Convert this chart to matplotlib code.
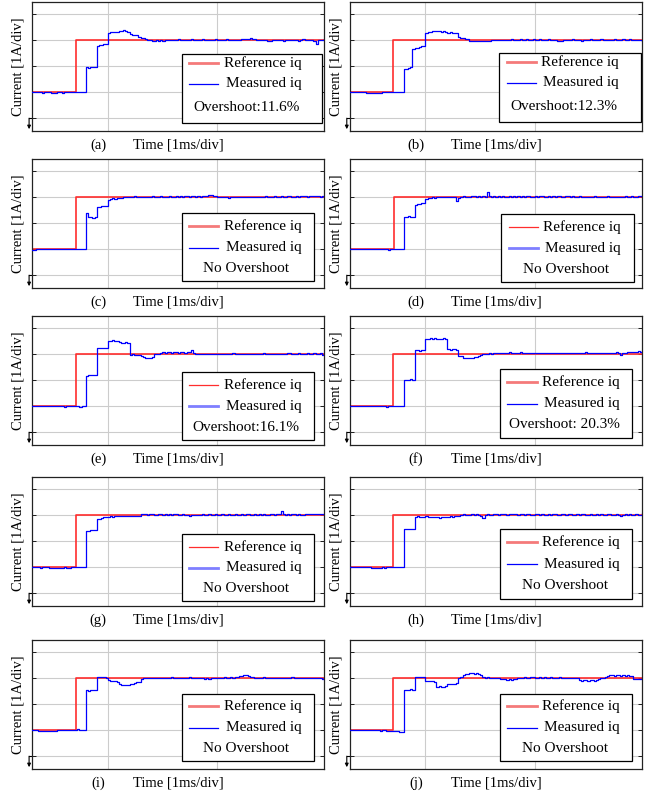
import numpy as np
import matplotlib.pyplot as plt
from matplotlib.patches import Rectangle
from matplotlib.lines import Line2D
import matplotlib.transforms as mtransforms

plt.rcParams['font.family'] = ['Liberation Serif', 'DejaVu Serif']

# scope traces, 1 A/div vertical, 1 ms/div horizontal, sampled every 0.02 ms from -0.70 ms
t0_ms = -0.70
dt_ms = 0.02

iq_a = [1.00, 1.02, 0.99, 1.01, 1.00, 0.98, 1.01, 1.00, 0.99, 0.97,
        0.96, 0.97, 0.99, 1.00, 0.98, 1.01, 0.99, 1.00, 1.01, 0.99,
        1.00, 1.01, 0.99, 1.02, 1.00, 1.95, 1.94, 1.96, 1.97, 1.96,
        2.77, 2.79, 2.80, 2.83, 2.85, 3.28, 3.30, 3.29, 3.32, 3.31,
        3.33, 3.35, 3.37, 3.34, 3.30, 3.22, 3.20, 3.19, 3.18, 3.10,
        3.08, 3.09, 3.05, 3.00, 2.98, 2.97, 2.96, 2.98, 2.97, 2.99,
        2.97, 3.00, 2.98, 3.01, 2.99, 3.00, 2.98, 3.02, 3.00, 2.99,
        3.01, 3.00, 2.99, 3.02, 3.00, 2.98, 3.01, 3.00, 3.02, 2.99,
        3.00, 3.01, 2.98, 3.00, 3.02, 2.99, 3.01, 3.00, 2.99, 3.02,
        3.00, 2.99, 3.01, 3.00, 2.98, 3.01, 3.03, 3.04, 3.05, 3.04,
        3.06, 3.04, 3.03, 3.01, 3.00, 2.99, 3.01, 2.98, 2.96, 2.97,
        3.00, 2.98, 3.01, 2.99, 3.00, 2.97, 2.99, 3.01, 3.00, 2.98,
        3.01, 3.00, 2.97, 2.99, 3.02, 3.00, 2.98, 3.01, 2.99, 2.97,
        2.86, 2.99, 3.01, 3.00, 3.02]

iq_b = [1.00, 1.01, 0.99, 1.00, 1.02, 1.00, 0.99, 1.01, 0.98, 0.97,
        0.98, 0.96, 0.95, 0.97, 0.96, 0.99, 1.00, 1.01, 0.99, 1.00,
        1.00, 1.01, 0.99, 1.00, 1.02, 1.88, 1.90, 1.93, 1.97, 2.66,
        2.68, 2.70, 2.74, 2.76, 2.77, 3.27, 3.29, 3.31, 3.34, 3.33,
        3.35, 3.34, 3.32, 3.33, 3.30, 3.28, 3.29, 3.26, 3.27, 3.25,
        3.10, 3.08, 3.06, 3.05, 3.03, 2.97, 2.95, 2.96, 2.94, 2.96,
        2.95, 2.97, 2.96, 2.95, 2.97, 2.99, 2.98, 3.00, 2.99, 3.01,
        3.00, 2.99, 3.01, 3.00, 3.02, 3.00, 2.99, 3.01, 3.03, 3.00,
        3.01, 3.02, 3.00, 2.99, 3.02, 3.01, 3.00, 3.02, 2.99, 3.01,
        3.00, 3.02, 3.01, 2.99, 3.00, 2.96, 2.95, 2.96, 2.98, 3.00,
        3.01, 3.00, 3.02, 2.99, 3.01, 3.00, 2.97, 2.99, 3.01, 3.00,
        3.02, 3.00, 2.99, 3.01, 3.00, 3.03, 3.01, 3.00, 2.99, 3.01,
        3.00, 3.02, 3.01, 2.99, 3.00, 3.02, 3.01, 3.00, 3.02, 3.00,
        3.01, 2.99, 3.00, 2.98, 2.96]

iq_c = [0.98, 0.97, 0.99, 1.00, 1.01, 0.99, 1.00, 1.02, 1.00, 0.99,
        1.00, 1.01, 0.99, 1.00, 1.00, 1.02, 0.99, 1.00, 1.01, 0.99,
        1.00, 0.99, 1.01, 1.00, 1.02, 2.40, 2.22, 2.21, 2.20, 2.22,
        2.62, 2.63, 2.64, 2.66, 2.66, 2.88, 2.92, 2.95, 2.90, 2.96,
        2.94, 2.97, 3.00, 2.99, 3.01, 2.98, 3.00, 3.02, 2.99, 3.00,
        2.99, 3.01, 3.00, 2.98, 3.00, 3.02, 2.99, 3.01, 3.00, 3.02,
        3.00, 2.99, 3.01, 3.02, 3.00, 3.01, 3.03, 3.00, 3.02, 3.01,
        3.03, 3.02, 3.01, 3.04, 3.02, 3.00, 3.02, 3.01, 3.03, 3.02,
        3.05, 3.07, 3.06, 3.04, 3.02, 3.00, 2.98, 2.99, 3.01, 2.98,
        2.97, 2.99, 3.00, 2.98, 3.00, 3.01, 2.99, 3.00, 2.98, 3.00,
        3.01, 2.99, 3.00, 3.01, 3.00, 2.99, 3.00, 3.02, 3.01, 3.00,
        3.00, 3.02, 3.01, 3.00, 3.03, 3.01, 3.00, 3.02, 3.04, 3.01,
        3.00, 3.02, 3.01, 3.03, 3.04, 3.02, 3.01, 3.03, 3.02, 3.04,
        3.02, 3.03, 3.01, 3.03, 2.99]

iq_d = [1.00, 1.02, 1.00, 1.01, 0.99, 1.01, 1.00, 1.02, 0.99, 1.00,
        1.01, 0.99, 1.00, 0.99, 1.01, 1.00, 0.99, 1.00, 0.98, 1.00,
        1.00, 0.99, 1.01, 1.00, 1.01, 2.24, 2.23, 2.25, 2.24, 2.24,
        2.69, 2.71, 2.73, 2.75, 2.76, 2.92, 2.96, 2.95, 2.98, 2.97,
        2.99, 2.98, 3.00, 3.01, 2.99, 3.00, 2.98, 3.01, 2.99, 2.86,
        2.97, 3.00, 3.02, 3.01, 2.99, 3.01, 3.03, 3.02, 3.00, 3.02,
        3.01, 3.03, 3.00, 3.18, 3.03, 3.01, 3.02, 3.00, 3.03, 3.01,
        3.02, 3.00, 3.01, 3.03, 3.01, 3.02, 3.00, 3.02, 3.01, 3.03,
        3.00, 3.02, 3.03, 3.01, 3.00, 3.02, 3.01, 3.04, 3.02, 3.00,
        3.01, 3.03, 3.00, 3.02, 3.01, 3.04, 3.02, 3.00, 3.01, 3.02,
        3.03, 3.01, 3.02, 3.00, 3.01, 3.02, 3.00, 3.01, 2.99, 3.00,
        3.01, 3.00, 3.02, 3.01, 3.00, 2.99, 3.01, 3.00, 3.02, 3.00,
        3.01, 2.99, 3.00, 3.01, 2.99, 3.00, 3.02, 3.01, 3.00, 3.03,
        3.01, 3.00, 3.02, 3.03, 3.01]

iq_e = [1.00, 1.01, 0.99, 1.00, 1.02, 1.00, 1.01, 0.99, 1.00, 1.01,
        0.99, 1.00, 1.01, 0.99, 1.00, 0.98, 1.00, 1.01, 0.99, 1.00,
        0.99, 1.00, 0.97, 1.01, 1.00, 2.17, 2.18, 2.18, 2.19, 2.20,
        3.23, 3.24, 3.22, 3.23, 3.21, 3.51, 3.50, 3.52, 3.49, 3.48,
        3.45, 3.43, 3.42, 3.44, 3.43, 2.97, 2.98, 2.96, 2.97, 2.95,
        2.92, 2.87, 2.85, 2.84, 2.86, 2.88, 3.00, 2.99, 3.01, 3.02,
        3.06, 3.05, 3.07, 3.06, 3.05, 3.07, 3.06, 3.05, 3.06, 3.07,
        3.05, 3.06, 3.08, 3.15, 3.04, 3.00, 2.99, 3.01, 3.00, 2.98,
        3.00, 3.01, 2.99, 3.00, 2.98, 3.01, 3.00, 2.99, 3.01, 3.00,
        2.99, 3.00, 3.02, 2.99, 3.00, 3.01, 2.98, 3.00, 3.01, 2.99,
        3.00, 2.98, 3.01, 3.00, 2.99, 3.00, 3.02, 3.01, 2.99, 3.00,
        2.98, 3.00, 3.01, 3.00, 2.99, 3.01, 3.00, 3.03, 3.02, 3.00,
        3.01, 3.00, 3.02, 3.01, 2.99, 3.00, 3.02, 3.01, 3.00, 3.02,
        3.01, 3.00, 3.02, 2.94, 3.01]

iq_f = [1.00, 0.99, 1.01, 1.00, 1.02, 1.00, 0.99, 1.01, 1.00, 1.02,
        1.00, 0.99, 1.01, 1.00, 0.99, 1.01, 1.00, 0.98, 1.00, 1.01,
        1.00, 1.01, 0.99, 1.00, 1.00, 2.00, 2.01, 2.00, 2.02, 2.01,
        3.13, 3.14, 3.12, 3.15, 3.14, 3.58, 3.57, 3.60, 3.58, 3.59,
        3.57, 3.58, 3.56, 3.59, 3.57, 3.17, 3.16, 3.18, 3.17, 3.16,
        2.92, 2.90, 2.86, 2.85, 2.84, 2.86, 2.85, 2.88, 2.87, 2.92,
        2.96, 2.99, 3.00, 3.01, 3.02, 3.01, 3.03, 3.04, 3.03, 3.05,
        3.04, 3.05, 3.03, 3.06, 3.04, 3.05, 3.03, 3.04, 3.06, 3.04,
        3.05, 3.03, 3.04, 3.02, 3.04, 3.03, 3.05, 3.04, 3.02, 3.04,
        3.03, 3.05, 3.04, 3.03, 3.02, 3.04, 3.03, 3.05, 3.04, 3.02,
        3.03, 3.04, 3.05, 3.03, 3.02, 3.04, 3.03, 3.05, 3.06, 3.04,
        3.03, 3.04, 3.02, 3.04, 3.03, 3.05, 3.04, 3.03, 3.05, 3.04,
        3.05, 3.04, 3.06, 3.05, 2.95, 3.04, 3.05, 3.07, 3.06, 3.08,
        3.09, 3.08, 3.11, 3.09, 3.10]

iq_g = [1.00, 0.99, 1.01, 1.00, 0.98, 1.00, 0.99, 1.01, 0.98, 0.97,
        0.96, 0.98, 0.97, 0.95, 0.97, 0.99, 0.96, 0.98, 1.00, 1.01,
        0.99, 1.00, 1.02, 1.01, 1.00, 2.39, 2.40, 2.41, 2.42, 2.43,
        2.84, 2.86, 2.88, 2.91, 2.90, 2.92, 2.94, 2.93, 2.95, 2.96,
        2.94, 2.96, 2.95, 2.97, 2.95, 2.96, 2.94, 2.96, 2.97, 2.95,
        3.05, 3.03, 3.02, 3.01, 3.03, 3.02, 3.00, 3.01, 3.03, 3.02,
        3.01, 3.03, 3.00, 3.02, 3.01, 3.03, 3.02, 3.00, 3.01, 3.02,
        3.00, 2.98, 2.97, 2.99, 3.01, 3.00, 2.99, 3.01, 3.02, 3.00,
        3.01, 3.02, 3.00, 3.01, 3.03, 3.01, 3.00, 3.02, 3.01, 3.00,
        3.02, 3.00, 3.01, 3.03, 3.01, 3.00, 3.02, 3.01, 3.03, 3.02,
        3.00, 3.01, 3.02, 3.00, 3.03, 3.01, 3.02, 3.00, 3.01, 3.03,
        3.02, 3.01, 3.03, 3.02, 3.14, 3.03, 3.01, 3.02, 3.00, 3.02,
        3.03, 3.01, 3.02, 3.00, 3.01, 3.03, 3.02, 3.04, 3.02, 3.03,
        3.05, 3.03, 3.04, 3.02, 3.03]

iq_h = [1.00, 1.01, 0.99, 1.02, 1.00, 0.99, 1.01, 1.00, 0.99, 1.00,
        0.98, 0.96, 0.97, 0.95, 0.97, 0.99, 0.98, 1.00, 0.99, 1.01,
        1.00, 0.99, 1.01, 1.00, 1.00, 2.45, 2.44, 2.46, 2.45, 2.44,
        2.93, 2.94, 2.92, 2.93, 2.91, 2.94, 2.92, 2.93, 2.91, 2.90,
        2.92, 2.89, 2.90, 2.91, 2.93, 2.92, 2.94, 2.93, 2.95, 2.94,
        2.96, 3.00, 3.02, 3.01, 2.99, 3.01, 3.03, 3.00, 3.02, 3.01,
        2.95, 2.87, 3.00, 3.02, 3.01, 3.00, 3.02, 3.03, 3.01, 3.02,
        3.04, 3.03, 3.01, 3.02, 3.05, 3.03, 3.02, 3.01, 3.03, 3.02,
        3.01, 3.03, 3.02, 3.00, 3.01, 3.03, 3.02, 3.00, 3.02, 3.01,
        3.00, 3.02, 3.01, 3.03, 3.02, 3.00, 3.01, 3.03, 3.02, 3.01,
        3.03, 3.02, 3.01, 3.00, 3.02, 3.01, 3.03, 3.02, 3.00, 3.01,
        3.02, 3.00, 3.01, 3.03, 3.01, 3.02, 3.00, 3.01, 3.02, 3.03,
        3.01, 3.00, 3.02, 3.01, 2.97, 3.00, 3.02, 3.01, 3.03, 3.00,
        3.01, 3.02, 2.98, 3.00, 3.09]

iq_i = [1.00, 0.99, 1.01, 0.96, 0.95, 0.97, 0.96, 0.98, 0.95, 0.97,
        0.98, 0.96, 0.99, 1.00, 0.99, 1.01, 1.00, 0.99, 1.01, 1.00,
        0.99, 1.05, 1.00, 1.01, 0.99, 2.52, 2.51, 2.53, 2.52, 2.52,
        3.03, 3.05, 3.02, 3.04, 3.01, 2.90, 2.88, 2.87, 2.89, 2.86,
        2.76, 2.74, 2.71, 2.72, 2.74, 2.76, 2.78, 2.80, 2.84, 2.86,
        2.97, 2.99, 3.00, 2.98, 3.01, 3.00, 2.99, 3.01, 3.00, 2.98,
        3.00, 3.01, 2.99, 3.00, 3.02, 3.00, 3.01, 2.99, 3.00, 3.01,
        2.99, 3.00, 3.02, 3.01, 3.00, 2.99, 3.01, 3.00, 2.98, 2.97,
        2.98, 2.97, 2.99, 3.00, 2.99, 3.01, 3.00, 2.99, 3.02, 3.01,
        3.00, 3.02, 3.01, 3.03, 3.05, 3.06, 3.08, 3.10, 3.12, 3.07,
        3.04, 3.02, 3.00, 3.01, 2.99, 3.00, 3.02, 3.00, 2.98, 2.99,
        3.00, 3.01, 2.99, 3.00, 2.98, 3.00, 3.01, 2.99, 3.00, 3.02,
        3.00, 2.99, 3.01, 3.00, 2.98, 3.00, 3.01, 2.99, 3.00, 2.98,
        2.99, 3.01, 3.00, 2.97, 2.99]

iq_j = [1.01, 1.00, 1.02, 1.00, 1.01, 0.99, 1.00, 1.01, 0.99, 1.00,
        1.00, 0.99, 1.01, 1.00, 0.98, 0.99, 1.00, 0.97, 0.98, 0.96,
        0.97, 0.98, 0.96, 0.93, 0.93, 2.55, 2.53, 2.54, 2.56, 2.55,
        3.03, 3.04, 3.02, 3.05, 3.03, 2.89, 2.88, 2.87, 2.89, 2.86,
        2.66, 2.67, 2.65, 2.66, 2.68, 2.77, 2.76, 2.78, 2.77, 2.79,
        2.98, 3.02, 3.10, 3.13, 3.15, 3.18, 3.20, 3.16, 3.18, 3.14,
        3.10, 3.05, 3.00, 3.02, 2.99, 3.01, 3.00, 2.98, 3.01, 2.97,
        2.96, 2.94, 2.93, 2.95, 2.93, 2.94, 2.96, 2.99, 3.01, 3.00,
        3.02, 3.00, 3.01, 3.03, 3.02, 3.00, 3.01, 3.02, 3.00, 3.03,
        3.01, 3.00, 3.02, 3.01, 2.99, 3.00, 3.02, 3.01, 3.00, 2.99,
        3.00, 3.01, 2.98, 3.00, 2.99, 2.90, 2.89, 2.91, 2.90, 2.88,
        2.90, 2.91, 2.89, 2.92, 2.97, 2.98, 3.00, 3.02, 3.08, 3.10,
        3.11, 3.09, 3.10, 3.12, 3.09, 3.10, 3.08, 3.11, 3.09, 3.07,
        2.96, 2.95, 2.97, 2.94, 2.96]

measured = [iq_a, iq_b, iq_c, iq_d, iq_e, iq_f, iq_g, iq_h, iq_i, iq_j]

# reference step command
ref_step_ms = [-0.29, -0.30, -0.29, -0.29, -0.29, -0.30, -0.29, -0.30, -0.29, -0.30]
ref_low = 1.0
ref_high = 3.0

tags = ['(a)', '(b)', '(c)', '(d)', '(e)', '(f)', '(g)', '(h)', '(i)', '(j)']
notes = ['Overshoot:11.6%', 'Overshoot:12.3%', 'No Overshoot', 'No Overshoot',
         'Overshoot:16.1%', 'Overshoot: 20.3%', 'No Overshoot', 'No Overshoot',
         'No Overshoot', 'No Overshoot']

# which legend handle is drawn as the wide pale line
pale_ref = [True, True, True, False, False, True, False, True, True, True]

legend_boxes = [(0.511, 0.064, 0.993, 0.600), (0.510, 0.072, 0.995, 0.608),
                (0.511, 0.052, 0.965, 0.578), (0.517, 0.047, 0.971, 0.573),
                (0.511, 0.039, 0.966, 0.569), (0.513, 0.057, 0.967, 0.593),
                (0.511, 0.039, 0.966, 0.558), (0.513, 0.057, 0.967, 0.600),
                (0.511, 0.064, 0.964, 0.585), (0.513, 0.064, 0.967, 0.585)]

x_lim = (-0.69, 1.98)
y_lim = (-0.49, 4.45)

fig = plt.figure(figsize=(6.51, 8.0), dpi=100)
col_left = [32.3, 350.0]
row_bottom = [131, 288, 445, 606, 769]
ax_w, ax_h = 292.0, 129.0

red = '#ff2d2d'
blue = '#0000ff'

for k in range(10):
    r, c = k // 2, k % 2
    ax = fig.add_axes([col_left[c] / 651, 1 - row_bottom[r] / 800, ax_w / 651, ax_h / 800])

    iq = np.array(measured[k])
    t = t0_ms + dt_ms * np.arange(len(iq))
    ts = ref_step_ms[k]
    ax.plot([t0_ms, ts, ts, x_lim[1]], [ref_low, ref_low, ref_high, ref_high],
            color=red, lw=1.2, zorder=2)
    ax.plot(t, iq, color=blue, lw=0.9, drawstyle='steps-post', zorder=3)

    ax.set_xlim(*x_lim)
    ax.set_ylim(*y_lim)
    ax.set_xticks([0, 1])
    ax.set_yticks([0, 1, 2, 3, 4])
    ax.grid(True, color='#cccccc', lw=0.8)
    ax.set_axisbelow(True)
    ax.tick_params(axis='x', length=0, labelbottom=False)
    ax.tick_params(axis='y', direction='in', length=3, width=0.6,
                   left=True, right=True, labelleft=False)
    for sp in ax.spines.values():
        sp.set_linewidth(0.9)
        sp.set_color('#222222')

    # ground level marker
    trans = mtransforms.blended_transform_factory(ax.transAxes, ax.transData)
    ax.plot([-0.011, 0.0], [0, 0], color='k', lw=0.8, transform=trans, clip_on=False)
    ax.annotate('', xy=(-0.011, -0.42), xytext=(-0.011, 0.0), xycoords=trans,
                textcoords=trans, annotation_clip=False,
                arrowprops=dict(arrowstyle='-|>', color='k', lw=0.8,
                                mutation_scale=5, shrinkA=0, shrinkB=0))

    # legend box
    x0, y0, x1, y1 = legend_boxes[k]
    ax.add_patch(Rectangle((x0, y0), x1 - x0, y1 - y0, transform=ax.transAxes,
                           facecolor='white', edgecolor='k', lw=0.9, zorder=5))
    if k < 2:
        rows = [0.865, 0.565, 0.218]
    else:
        rows = [0.808, 0.493, 0.188]
    ys = [y0 + f * (y1 - y0) for f in rows]
    if pale_ref[k]:
        ref_style = dict(color='#f47a7a', lw=2.0)
        meas_style = dict(color=blue, lw=0.9)
    else:
        ref_style = dict(color=red, lw=0.9)
        meas_style = dict(color='#7f7fff', lw=2.0)
    ax.add_line(Line2D([x0 + 0.026, x0 + 0.126], [ys[0], ys[0]], transform=ax.transAxes,
                       zorder=6, **ref_style))
    ax.add_line(Line2D([x0 + 0.026, x0 + 0.126], [ys[1], ys[1]], transform=ax.transAxes,
                       zorder=6, **meas_style))
    ax.text(x0 + 0.41, ys[0], 'Reference iq', transform=ax.transAxes, ha='right',
            va='center', fontsize=11, zorder=7)
    ax.text(x0 + 0.41, ys[1], 'Measured iq', transform=ax.transAxes, ha='right',
            va='center', fontsize=11, zorder=7)
    ax.text(x0 + 0.222, ys[2], notes[k], transform=ax.transAxes, ha='center',
            va='center', fontsize=11, zorder=7)

    ax.text(-0.048, 0.5, 'Current [1A/div]', transform=ax.transAxes, rotation=90,
            ha='center', va='center', fontsize=10.5)
    ax.text(0.5, -0.108, 'Time [1ms/div]', transform=ax.transAxes, ha='center',
            va='center', fontsize=10.5)
    ax.text(0.226, -0.108, tags[k], transform=ax.transAxes, ha='center',
            va='center', fontsize=10.5)

fig.savefig('out.png', dpi=100)
